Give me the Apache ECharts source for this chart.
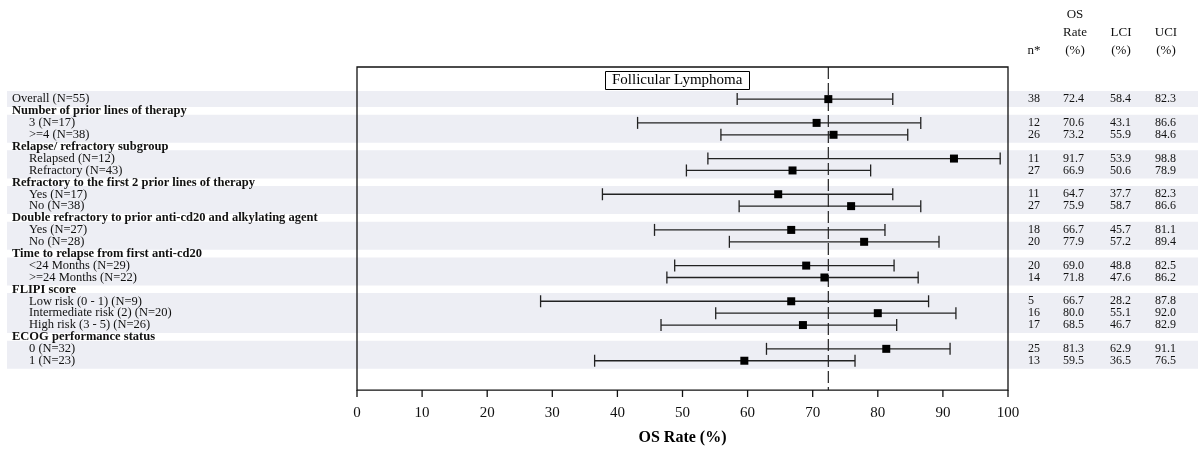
<!DOCTYPE html>
<html>
<head>
<meta charset="utf-8">
<script src="https://cdn.jsdelivr.net/npm/echarts@6/dist/echarts.min.js"></script>
<style>
html,body{margin:0;padding:0;background:#fff;}
#chart{width:1198px;height:454px;}
</style>
</head>
<body>
<div id="chart"></div>
<script>
// ---- data ----
const rowLabels = [
  'Overall (N=55)',
  'Number of prior lines of therapy',
  '3 (N=17)',
  '>=4 (N=38)',
  'Relapse/ refractory subgroup',
  'Relapsed (N=12)',
  'Refractory (N=43)',
  'Refractory to the first 2 prior lines of therapy',
  'Yes (N=17)',
  'No (N=38)',
  'Double refractory to prior anti-cd20 and alkylating agent',
  'Yes (N=27)',
  'No (N=28)',
  'Time to relapse from first anti-cd20',
  '<24 Months (N=29)',
  '>=24 Months (N=22)',
  'FLIPI score',
  'Low risk (0 - 1) (N=9)',
  'Intermediate risk (2) (N=20)',
  'High risk (3 - 5) (N=26)',
  'ECOG performance status',
  '0 (N=32)',
  '1 (N=23)'
];
// 0 = overall, 1 = group header, 2 = subgroup
const rowKind = [0,1,2,2,1,2,2,1,2,2,1,2,2,1,2,2,1,2,2,2,1,2,2];
const nValues = [38,null,12,26,null,11,27,null,11,27,null,18,20,null,20,14,null,5,16,17,null,25,13];
const osRates = [72.4,null,70.6,73.2,null,91.7,66.9,null,64.7,75.9,null,66.7,77.9,null,69.0,71.8,null,66.7,80.0,68.5,null,81.3,59.5];
const lciValues = [58.4,null,43.1,55.9,null,53.9,50.6,null,37.7,58.7,null,45.7,57.2,null,48.8,47.6,null,28.2,55.1,46.7,null,62.9,36.5];
const uciValues = [82.3,null,86.6,84.6,null,98.8,78.9,null,82.3,86.6,null,81.1,89.4,null,82.5,86.2,null,87.8,92.0,82.9,null,91.1,76.5];
const xTickValues = [0,10,20,30,40,50,60,70,80,90,100];
const chartTitle = 'Follicular Lymphoma';
const xAxisTitle = 'OS Rate (%)';

// ---- derived ----
const FONT = 'Liberation Serif';
const forestData = [];
const tableData = [];
const labelData = [];
rowLabels.forEach((lab, i) => {
  labelData.push([0, i, rowKind[i]]);
  if (osRates[i] != null) {
    forestData.push([osRates[i], i, lciValues[i], uciValues[i]]);
    tableData.push([0, i, nValues[i], osRates[i], lciValues[i], uciValues[i]]);
  }
});
// contiguous data-row groups -> bands
const bands = [];
let cur = null;
rowKind.forEach((k, i) => {
  if (k !== 1) {
    if (cur && cur[1] === i - 1) cur[1] = i; else { cur = [i, i]; bands.push(cur); }
  }
});

// y extent in row units; frame bottom (x-axis line) sits at yAxisLine, ticks hang below it
const yMin = -2.7, yAxisLine = 24.47, yMax = 25.05;
const gridTop = 67, gridHeight = 330;
const xMin = xTickValues[0], xMax = xTickValues[xTickValues.length - 1];

const chart = echarts.init(document.getElementById('chart'));
chart.setOption({
  animation: false,
  backgroundColor: '#fff',
  title: {
    text: chartTitle, left: 605, top: 71,
    padding: [2, 7, 2, 7],
    borderColor: '#000', borderWidth: 1, backgroundColor: '#fff',
    textStyle: { fontFamily: FONT, fontSize: 15, fontWeight: 'normal', color: '#000' }
  },
  grid: [
    { left: 357, width: 651, top: gridTop, height: gridHeight, show: false },
    { left: 0, right: 0, top: gridTop, height: gridHeight, show: false }
  ],
  xAxis: [
    { gridIndex: 0, type: 'value', min: xMin, max: xMax,
      interval: xTickValues[1] - xTickValues[0], position: 'bottom',
      axisLine: { show: false, onZero: false },
      axisTick: { show: false },
      splitLine: { show: false },
      axisLabel: { show: true, margin: 9, fontFamily: FONT, fontSize: 15, color: '#111' },
      name: xAxisTitle, nameLocation: 'middle', nameGap: 33,
      nameTextStyle: { fontFamily: FONT, fontSize: 16, fontWeight: 'bold', color: '#000' } },
    { gridIndex: 1, type: 'value', min: 0, max: 1198, show: false }
  ],
  yAxis: [
    { gridIndex: 0, type: 'value', min: yMin, max: yMax, inverse: true, show: false },
    { gridIndex: 1, type: 'value', min: yMin, max: yMax, inverse: true, show: false }
  ],
  series: [
    { // background bands
      type: 'custom', xAxisIndex: 1, yAxisIndex: 1, z: -10, silent: true,
      data: bands.map(b => [b[0], b[1]]),
      renderItem: function (params, api) {
        const p0 = api.coord([7, api.value(0) - 0.69]);
        const p1 = api.coord([1198, api.value(1) + 0.67]);
        return { type: 'rect', shape: { x: p0[0], y: p0[1], width: p1[0] - p0[0], height: p1[1] - p0[1] },
          style: { fill: '#edeef4' } };
      }
    },
    { // row labels
      type: 'custom', xAxisIndex: 1, yAxisIndex: 1, z: 5, silent: true,
      data: labelData,
      renderItem: function (params, api) {
        const i = api.value(1);
        const kind = api.value(2);
        const p = api.coord([kind === 2 ? 29 : 12, i]);
        return { type: 'text', x: p[0], y: p[1],
          style: { text: rowLabels[i], fill: '#111', align: 'left', verticalAlign: 'middle',
            font: (kind === 1 ? 'bold ' : '') + '12.5px "' + FONT + '"' } };
      }
    },
    { // table values
      type: 'custom', xAxisIndex: 1, yAxisIndex: 1, z: 5, silent: true,
      data: tableData,
      renderItem: function (params, api) {
        const i = api.value(1);
        const cols = [1028, 1063, 1110, 1155];
        const vals = [String(api.value(2)), api.value(3).toFixed(1), api.value(4).toFixed(1), api.value(5).toFixed(1)];
        return { type: 'group', children: vals.map((v, k) => {
          const p = api.coord([cols[k], i]);
          return { type: 'text', x: p[0], y: p[1],
            style: { text: v, fill: '#111', align: 'left', verticalAlign: 'middle', font: '12px "' + FONT + '"' } };
        }) };
      }
    },
    { // plot frame (x-axis line + border)
      type: 'custom', xAxisIndex: 0, yAxisIndex: 0, z: 6, silent: true, clip: false,
      data: [[xMin, yMin, xMax, yAxisLine]],
      renderItem: function (params, api) {
        const a = api.coord([api.value(0), api.value(1)]);
        const b = api.coord([api.value(2), api.value(3)]);
        return { type: 'rect', shape: { x: a[0], y: a[1], width: b[0] - a[0], height: b[1] - a[1] },
          style: { fill: 'none', stroke: '#111', lineWidth: 1.3 } };
      }
    },
    { // x-axis ticks, hanging below the axis line
      type: 'custom', xAxisIndex: 0, yAxisIndex: 0, z: 6, silent: true, clip: false,
      data: xTickValues.map(v => [v, yAxisLine, yMax]),
      renderItem: function (params, api) {
        const a = api.coord([api.value(0), api.value(1)]);
        const b = api.coord([api.value(0), api.value(2)]);
        return { type: 'line', shape: { x1: a[0], y1: a[1], x2: b[0], y2: b[1] },
          style: { stroke: '#111', lineWidth: 1.3 } };
      }
    },
    { // reference line at the overall rate
      type: 'custom', xAxisIndex: 0, yAxisIndex: 0, z: 3, silent: true, clip: false,
      data: [[osRates[0], yMin, yAxisLine]],
      renderItem: function (params, api) {
        const a = api.coord([api.value(0), api.value(1)]);
        const b = api.coord([api.value(0), api.value(2)]);
        return { type: 'line', shape: { x1: a[0], y1: a[1], x2: b[0], y2: b[1] },
          style: { stroke: '#222', lineWidth: 1.2, lineDash: [12, 4] } };
      }
    },
    { // forest plot
      type: 'custom', xAxisIndex: 0, yAxisIndex: 0, z: 4, clip: false,
      data: forestData,
      encode: { x: 0, y: 1 },
      renderItem: function (params, api) {
        const y = api.value(1);
        const c = api.coord([api.value(0), y]);
        const l = api.coord([api.value(2), y]);
        const u = api.coord([api.value(3), y]);
        const st = { stroke: '#222', lineWidth: 1.3 };
        const cap = 6;
        return { type: 'group', children: [
          { type: 'line', shape: { x1: l[0], y1: l[1], x2: u[0], y2: u[1] }, style: st },
          { type: 'line', shape: { x1: l[0], y1: l[1] - cap, x2: l[0], y2: l[1] + cap }, style: st },
          { type: 'line', shape: { x1: u[0], y1: u[1] - cap, x2: u[0], y2: u[1] + cap }, style: st },
          { type: 'rect', shape: { x: c[0] - 4, y: c[1] - 4, width: 8, height: 8 }, style: { fill: '#000' } }
        ] };
      }
    }
  ],
  graphic: [
    { type: 'text', x: 1034, y: 51, style: { text: 'n*', textAlign: 'center', textVerticalAlign: 'middle', font: '13px "' + FONT + '"', fill: '#111' } },
    { type: 'text', x: 1075, y: 15, style: { text: 'OS', textAlign: 'center', textVerticalAlign: 'middle', font: '13px "' + FONT + '"', fill: '#111' } },
    { type: 'text', x: 1075, y: 33, style: { text: 'Rate', textAlign: 'center', textVerticalAlign: 'middle', font: '13px "' + FONT + '"', fill: '#111' } },
    { type: 'text', x: 1075, y: 51, style: { text: '(%)', textAlign: 'center', textVerticalAlign: 'middle', font: '13px "' + FONT + '"', fill: '#111' } },
    { type: 'text', x: 1121, y: 33, style: { text: 'LCI', textAlign: 'center', textVerticalAlign: 'middle', font: '13px "' + FONT + '"', fill: '#111' } },
    { type: 'text', x: 1121, y: 51, style: { text: '(%)', textAlign: 'center', textVerticalAlign: 'middle', font: '13px "' + FONT + '"', fill: '#111' } },
    { type: 'text', x: 1166, y: 33, style: { text: 'UCI', textAlign: 'center', textVerticalAlign: 'middle', font: '13px "' + FONT + '"', fill: '#111' } },
    { type: 'text', x: 1166, y: 51, style: { text: '(%)', textAlign: 'center', textVerticalAlign: 'middle', font: '13px "' + FONT + '"', fill: '#111' } }
  ]
});
</script>
</body>
</html>
